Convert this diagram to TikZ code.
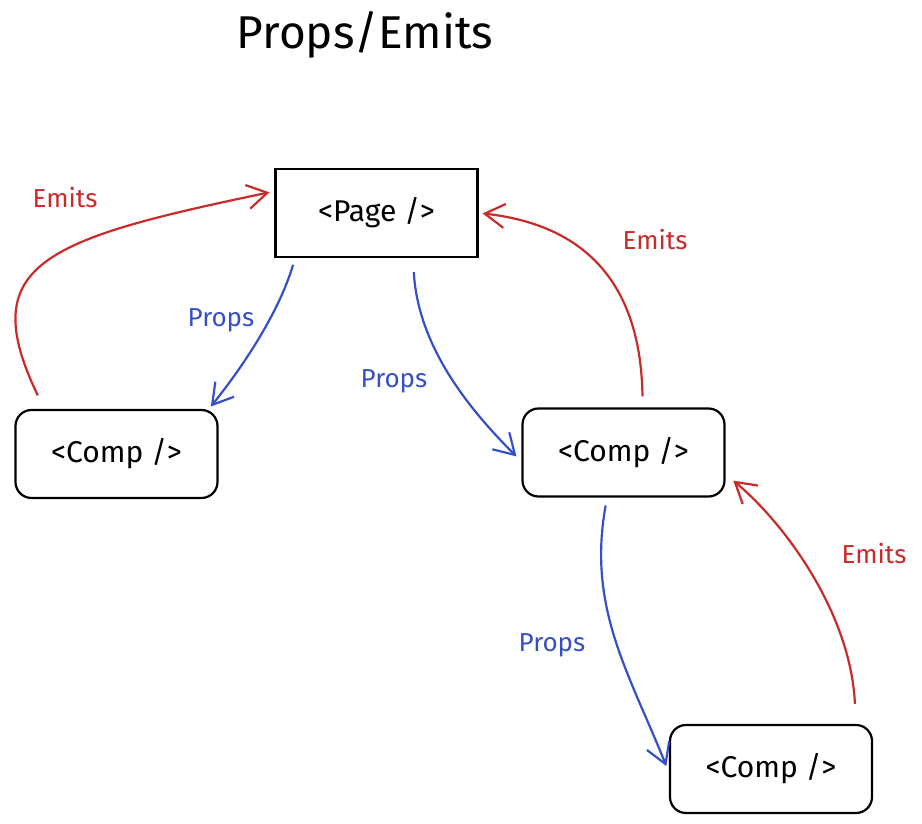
\documentclass[tikz,border=0pt]{standalone}
\usepackage{fontspec}
\setmainfont{Fira Sans}
\usetikzlibrary{arrows.meta}
\definecolor{emitsred}{HTML}{C92A2A}
\definecolor{propsblue}{HTML}{364FC7}

\begin{document}
\begin{tikzpicture}[x=0.5pt,y=-0.5pt,
    box/.style={draw,line width=1.1pt,minimum width=101pt,minimum height=44pt,
        font=\fontsize{15}{18}\selectfont},
    comp/.style={box,rounded corners=8pt},
    props/.style={draw=propsblue,line width=1.1pt,-{Straight Barb[length=10pt,width=12pt]}},
    emits/.style={draw=emitsred,line width=1.1pt,-{Straight Barb[length=10pt,width=12pt]}},
    lbl/.style={font=\fontsize{13}{15}\selectfont}]
    \useasboundingbox (0,0) rectangle (922,824);

    \node [font=\fontsize{23}{28}\selectfont] (title) at (365,35) {Props/Emits};

    \node [box]  (page)  at (376.5,213) {<Page />};
    \node [comp] (comp1) at (116.5,454) {<Comp />};
    \node [comp] (comp2) at (623.5,452.5) {<Comp />};
    \node [comp] (comp3) at (771,769) {<Comp />};

    \draw [emits,shorten <=7.5pt,shorten >=2.5pt] (comp1.148)
        .. controls +(-70,-145) and +(-230,48) .. (page.168);
    \draw [props,shorten <=3.5pt,shorten >=1.5pt] (page.209)
        .. controls +(-15,50) and +(40,-50) .. (comp1.26);
    \draw [props,shorten <=7pt,shorten >=3.5pt] (page.309)
        .. controls +(5,90) and +(-50,-50) .. (comp2.185);
    \draw [emits,shorten <=5.5pt,shorten >=2pt] (comp2.67)
        .. controls +(-2,-140) and +(90,10) .. (page.east);
    \draw [props,shorten <=4pt,shorten >=3.5pt] (comp2.250)
        .. controls +(-20,110) and +(-40,-100) .. (comp3.182);
    \draw [emits,shorten <=10pt,shorten >=5pt] (comp3.28)
        .. controls +(-5,-110) and +(60,50) .. (comp2.348);

    \node [lbl,text=emitsred]  (emits1) at (65,198)  {Emits};
    \node [lbl,text=propsblue] (props1) at (221,320) {Props};
    \node [lbl,text=propsblue] (props2) at (394,381) {Props};
    \node [lbl,text=emitsred]  (emits2) at (655,240) {Emits};
    \node [lbl,text=propsblue] (props3) at (552,645) {Props};
    \node [lbl,text=emitsred]  (emits3) at (874,554) {Emits};
\end{tikzpicture}
\end{document}
